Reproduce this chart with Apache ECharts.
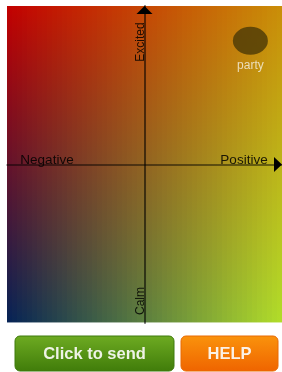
<!DOCTYPE html>
<html>
<head>
<meta charset="utf-8">
<script src="https://cdn.jsdelivr.net/npm/echarts@6/dist/echarts.min.js"></script>
<style>
html, body { margin: 0; padding: 0; background: #fff; }
#mood { width: 282px; height: 372px; }
</style>
</head>
<body>
<div id="mood"></div>
<script>
// 心情点
var moodNames = ['party'];
var moodValence = [0.77];
var moodArousal = [0.78];

// 坐标轴两端文字
var valenceNames = ['Negative', 'Positive'];
var arousalNames = ['Calm', 'Excited'];

// 按钮
var buttonTexts = ['Click to send', 'HELP'];

// 背景四角颜色 (左上, 右上, 左下, 右下)
var cornerTL = [195, 0, 0];
var cornerTR = [202, 142, 8];
var cornerBL = [4, 34, 86];
var cornerBR = [178, 222, 42];

var area = { x: 7, y: 6, w: 275, h: 317 };

function mix(a, b, t) {
	return 'rgb(' + Math.round(a[0] + (b[0] - a[0]) * t) + ',' +
		Math.round(a[1] + (b[1] - a[1]) * t) + ',' +
		Math.round(a[2] + (b[2] - a[2]) * t) + ')';
}

/*
 背景渐变，竖条拼成
 * */
var graphics = [];
var strips = 55;
var sw = area.w / strips;
for (var i = 0; i < strips; i++) {
	var u = (i + 0.5) / strips;
	graphics.push({
		type: 'rect',
		z: -10,
		silent: true,
		shape: { x: area.x + i * sw, y: area.y, width: sw + 1, height: area.h },
		style: {
			fill: new echarts.graphic.LinearGradient(0, 0, 0, 1, [
				{ offset: 0, color: mix(cornerTL, cornerTR, u) },
				{ offset: 1, color: mix(cornerBL, cornerBR, u) }
			])
		}
	});
}
graphics.push({
	type: 'rect', z: -9, silent: true,
	shape: { x: area.x, y: area.y + area.h - 1, width: area.w, height: 1 },
	style: { fill: 'rgba(255,255,255,0.55)' }
});

// 坐标轴文字
var axisFont = '13.5px "Liberation Sans", Arial, sans-serif';
var axisFontV = '12px "Liberation Sans", Arial, sans-serif';
graphics.push({
	type: 'text', z: 5, x: 47, y: 160,
	style: { text: valenceNames[0], font: axisFont, fill: 'rgba(0,0,0,0.85)', align: 'center', verticalAlign: 'middle' }
});
graphics.push({
	type: 'text', z: 5, x: 244, y: 160,
	style: { text: valenceNames[1], font: axisFont, fill: 'rgba(0,0,0,0.85)', align: 'center', verticalAlign: 'middle' }
});
graphics.push({
	type: 'text', z: 5, x: 141, y: 301, rotation: Math.PI / 2,
	style: { text: arousalNames[0], font: axisFontV, fill: 'rgba(0,0,0,0.85)', align: 'center', verticalAlign: 'middle' }
});
graphics.push({
	type: 'text', z: 5, x: 141, y: 42, rotation: Math.PI / 2,
	style: { text: arousalNames[1], font: axisFontV, fill: 'rgba(0,0,0,0.85)', align: 'center', verticalAlign: 'middle' }
});

/*
 底部按钮
 * */
var btnFont = 'bold 16.5px "Liberation Sans", Arial, sans-serif';
graphics.push({
	type: 'rect',
	shape: { x: 15, y: 336, width: 159, height: 35, r: 5 },
	style: {
		fill: new echarts.graphic.LinearGradient(0, 0, 0, 1, [
			{ offset: 0, color: '#6eab22' },
			{ offset: 1, color: '#407c0a' }
		]),
		stroke: '#3f7a0c', lineWidth: 1
	}
});
graphics.push({
	type: 'text', x: 94.5, y: 354,
	style: { text: buttonTexts[0], font: btnFont, fill: '#eef3e6', align: 'center', verticalAlign: 'middle' }
});
graphics.push({
	type: 'rect',
	shape: { x: 181, y: 336, width: 97, height: 35, r: 5 },
	style: {
		fill: new echarts.graphic.LinearGradient(0, 0, 0, 1, [
			{ offset: 0, color: '#fa930c' },
			{ offset: 1, color: '#ef6400' }
		]),
		stroke: '#e86a05', lineWidth: 1
	}
});
graphics.push({
	type: 'text', x: 229.5, y: 354,
	style: { text: buttonTexts[1], font: btnFont, fill: '#fbf1e6', align: 'center', verticalAlign: 'middle' }
});

var points = [];
for (var k = 0; k < moodNames.length; k++) {
	points.push({ name: moodNames[k], value: [moodValence[k], moodArousal[k]] });
}

var _chart = echarts.init(document.getElementById('mood'));
_chart.setOption({
	animation: false,
	grid: { left: area.x, right: 0, top: area.y, bottom: 372 - area.y - area.h },
	graphic: graphics,
	xAxis: {
		type: 'value', min: -1, max: 1,
		axisLabel: { show: false }, axisTick: { show: false }, splitLine: { show: false },
		axisLine: {
			onZero: true,
			symbol: ['none', 'triangle'], symbolSize: [15, 8], symbolOffset: [0, -4],
			lineStyle: { color: '#000', width: 1.5, opacity: 0.6 }
		}
	},
	yAxis: {
		type: 'value', min: -1, max: 1,
		axisLabel: { show: false }, axisTick: { show: false }, splitLine: { show: false },
		axisLine: {
			onZero: true,
			symbol: ['none', 'triangle'], symbolSize: [16, 8], symbolOffset: [0, -4],
			lineStyle: { color: '#000', width: 2, opacity: 0.55 }
		}
	},
	series: [
		{
			type: 'scatter',
			symbol: 'circle',
			symbolSize: [35, 28],
			itemStyle: { color: 'rgb(74,56,6)' },
			label: {
				show: true, position: 'bottom', distance: 5,
				formatter: '{b}', color: '#f6f1e2',
				fontSize: 12, fontFamily: '"Liberation Sans", Arial, sans-serif'
			},
			data: points
		}
	]
});
</script>
</body>
</html>
